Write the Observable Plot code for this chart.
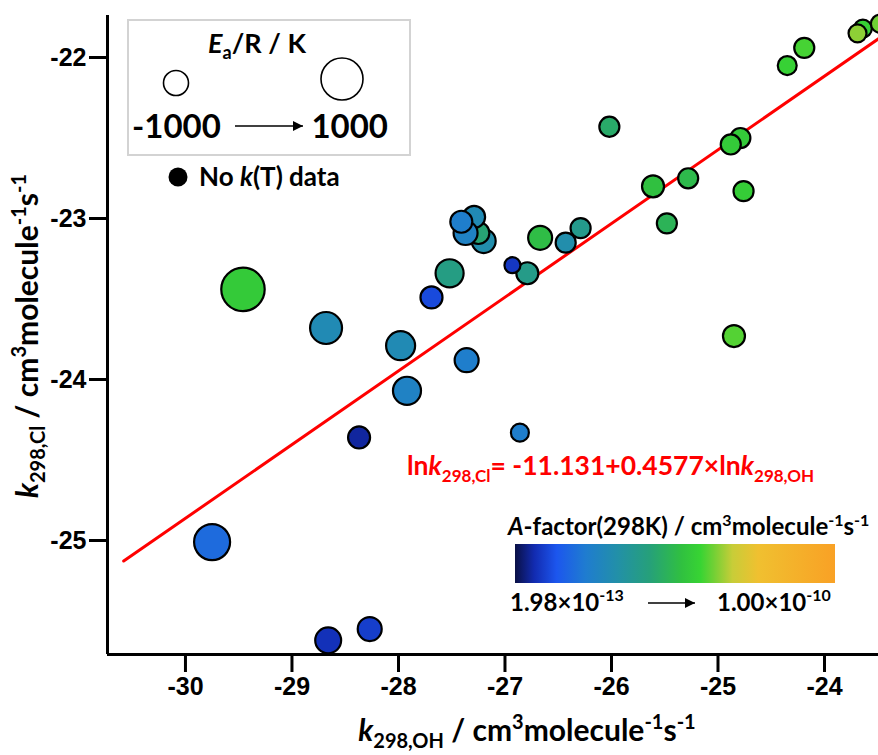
<!DOCTYPE html>
<html><head><meta charset="utf-8">
<script src="https://cdn.jsdelivr.net/npm/d3@7"></script>
<script src="https://cdn.jsdelivr.net/npm/@observablehq/plot@0.6"></script>
<style>
body{margin:0;background:#fff;}
#wrap{position:relative;width:878px;height:755px;overflow:hidden;background:#fff;}
#wrap > svg{position:absolute;left:0;top:0;}
#wrap g[aria-label^="x-axis"] line, #wrap g[aria-label^="x-axis"] path,
#wrap g[aria-label^="y-axis"] line, #wrap g[aria-label^="y-axis"] path{stroke-width:3px;stroke:#000;}
#overlay text{font-family:Lato,"Open Sans",sans-serif;font-weight:bold;}
</style></head><body><div id="wrap"></div>
<script>
// ---- data ----
const kOH = [-29.75,-29.46,-28.68,-28.66,-28.27,-28.37,-27.98,-27.92,-27.69,-27.52,-27.36,
  -27.20,-27.25,-27.29,-27.37,-27.41,-26.79,-26.93,-26.86,-26.67,-26.43,-26.29,-26.02,
  -25.61,-25.48,-25.28,-24.79,-24.88,-24.76,-24.85,-24.35,-24.19,-23.64,-23.69,-23.48];
const kCl = [-25.01,-23.44,-23.68,-25.62,-25.55,-24.36,-23.79,-24.07,-23.49,-23.34,-23.88,
  -23.14,-23.09,-22.99,-23.09,-23.02,-23.34,-23.29,-24.33,-23.12,-23.15,-23.06,-22.43,
  -22.80,-23.03,-22.75,-22.50,-22.54,-22.83,-23.73,-22.05,-21.94,-21.82,-21.85,-21.79];
const eaR = [430,960,140,-290,-430,-570,-70,-140,-570,-140,-430,
  -430,-570,-570,-430,-570,-570,-1000,-860,-430,-710,-710,-710,
  -570,-710,-710,-710,-710,-710,-570,-790,-710,-860,-860,-860];
const aFactor = [6.08e-13,6.08e-12,1.21e-12,3.06e-13,3.47e-13,2.70e-13,1.21e-12,9.40e-13,3.93e-13,2.39e-12,8.30e-13,
  1.36e-12,2.88e-12,1.21e-12,9.40e-13,8.30e-13,2.24e-12,3.26e-13,8.30e-13,4.74e-12,1.36e-12,2.11e-12,3.26e-12,
  5.05e-12,3.93e-12,4.45e-12,6.08e-12,6.08e-12,6.47e-12,8.30e-12,6.89e-12,7.80e-12,6.89e-12,1.06e-11,9.40e-12];
const xTicks = [-30,-29,-28,-27,-26,-25,-24];
const yTicks = [-25,-24,-23,-22];
const xDomain = [-30.732, -23.493];
const yDomain = [-25.708, -21.739];
const fitIntercept = -11.131, fitSlope = 0.4577;
const fitXRange = [-30.58, -23.49];
const eaRange = [-1000, 1000];
const aRange = [1.98e-13, 1.00e-10];
const colorStops = [0, 0.06, 0.13, 0.22, 0.32, 0.42, 0.52, 0.58, 0.62, 0.68, 0.76, 1];
const colorStopColors = ["#0a1045","#122bb0","#1c56ee","#1f7cd0","#2290a8","#26a07a","#30c040","#38d433","#70d035","#c8cd38","#f0c030","#f9a125"];

// ---- build ----
const pts = kOH.map((x, i) => ({x, y: kCl[i], ea: eaR[i], a: aFactor[i]}));
const fit = fitXRange.map(x => ({x, y: fitIntercept + fitSlope * x}));
const interp = t => {
  t = Math.max(0, Math.min(1, t));
  let i = 1;
  while (i < colorStops.length - 1 && t > colorStops[i]) i++;
  const t0 = colorStops[i - 1], t1 = colorStops[i];
  return d3.interpolateRgb(colorStopColors[i - 1], colorStopColors[i])((t - t0) / (t1 - t0));
};

const chart = Plot.plot({
  width: 878, height: 755,
  marginLeft: 107, marginRight: 0, marginTop: 15, marginBottom: 101,
  style: {fontFamily: "'Liberation Sans', Arial, sans-serif", fontSize: "25px", fontWeight: "bold", color: "#000", background: "transparent", overflow: "visible"},
  x: {domain: xDomain, ticks: xTicks, tickSize: 18, tickPadding: 5, tickFormat: d => String(d), label: null},
  y: {domain: yDomain, ticks: yTicks, tickSize: 18, tickPadding: 3, tickFormat: d => String(d), label: null},
  r: {type: "linear", domain: eaRange, range: [8, 22]},
  color: {type: "log", domain: aRange, interpolate: interp},
  marks: [
    Plot.line(fit, {x: "x", y: "y", stroke: "#ff0000", strokeWidth: 3}),
    Plot.dot(pts, {x: "x", y: "y", r: "ea", fill: "a", stroke: "#000", strokeWidth: 2.2, sort: null}),
    Plot.ruleX([xDomain[0]], {stroke: "#000", strokeWidth: 3}),
    Plot.ruleY([yDomain[0]], {stroke: "#000", strokeWidth: 3})
  ]
});
const wrap = document.getElementById("wrap");
wrap.appendChild(chart);

// ---- overlay: legends, equation, axis titles ----
const gradStops = colorStops.map((t, i) => `<stop offset="${t * 100}%" stop-color="${colorStopColors[i]}"/>`).join("");
const ov = `
<svg id="overlay" xmlns="http://www.w3.org/2000/svg" width="878" height="755" style="position:absolute;left:0;top:0;pointer-events:none">
 <defs>
  <linearGradient id="cbar" x1="0" x2="1" y1="0" y2="0">${gradStops}</linearGradient>
  <marker id="ah" viewBox="0 0 10 10" refX="10" refY="5" markerWidth="10" markerHeight="10" markerUnits="userSpaceOnUse" orient="auto">
   <path d="M0,0L10,5L0,10z" fill="#000"/>
  </marker>
 </defs>
 <rect x="128" y="20" width="282" height="135" fill="#fff" stroke="#d3d3d3" stroke-width="2"/>
 <text x="257" y="53" text-anchor="middle" font-size="27"><tspan font-style="italic">E</tspan><tspan font-size="18" dy="6">a</tspan><tspan dy="-6">/R / K</tspan></text>
 <circle cx="176" cy="83" r="12.5" fill="#fff" stroke="#000" stroke-width="1.6"/>
 <circle cx="342" cy="79" r="21" fill="#fff" stroke="#000" stroke-width="1.6"/>
 <text x="132" y="138" font-size="33">-1000</text>
 <text x="388" y="138" font-size="33" text-anchor="end">1000</text>
 <line x1="235" y1="126" x2="303" y2="126" stroke="#000" stroke-width="1.5" marker-end="url(#ah)"/>
 <circle cx="178" cy="177" r="9.5" fill="#000"/>
 <text x="199" y="186" font-size="26">No <tspan font-style="italic">k</tspan>(T) data</text>

 <text x="407" y="475" font-size="26.5" fill="#ff0000">ln<tspan font-style="italic">k</tspan><tspan font-size="17" dy="7">298,Cl</tspan><tspan dy="-7">= -11.131+0.4577×ln</tspan><tspan font-style="italic">k</tspan><tspan font-size="17" dy="7">298,OH</tspan></text>

 <text x="508" y="535" font-size="24"><tspan font-style="italic">A</tspan>-factor(298K) / cm<tspan font-size="16" dy="-9">3</tspan><tspan dy="9">molecule</tspan><tspan font-size="16" dy="-9">-1</tspan><tspan dy="9">s</tspan><tspan font-size="16" dy="-9">-1</tspan></text>
 <rect x="515" y="544" width="320" height="39" fill="url(#cbar)"/>
 <text x="510" y="611" font-size="24">1.98×10<tspan font-size="16" dy="-10">-13</tspan></text>
 <line x1="648" y1="603" x2="695" y2="603" stroke="#000" stroke-width="1.5" marker-end="url(#ah)"/>
 <text x="717" y="611" font-size="24">1.00×10<tspan font-size="16" dy="-10">-10</tspan></text>

 <text x="527" y="741" text-anchor="middle" font-size="30"><tspan font-style="italic">k</tspan><tspan font-size="20" dy="7">298,OH</tspan><tspan dy="-7"> / cm</tspan><tspan font-size="20" dy="-12">3</tspan><tspan dy="12">molecule</tspan><tspan font-size="20" dy="-12">-1</tspan><tspan dy="12">s</tspan><tspan font-size="20" dy="-12">-1</tspan></text>
 <text transform="translate(38,336) rotate(-90)" text-anchor="middle" font-size="30"><tspan font-style="italic">k</tspan><tspan font-size="20" dy="7">298,Cl</tspan><tspan dy="-7"> / cm</tspan><tspan font-size="20" dy="-12">3</tspan><tspan dy="12">molecule</tspan><tspan font-size="20" dy="-12">-1</tspan><tspan dy="12">s</tspan><tspan font-size="20" dy="-12">-1</tspan></text>
</svg>`;
wrap.insertAdjacentHTML("beforeend", ov);
</script>
</body></html>
